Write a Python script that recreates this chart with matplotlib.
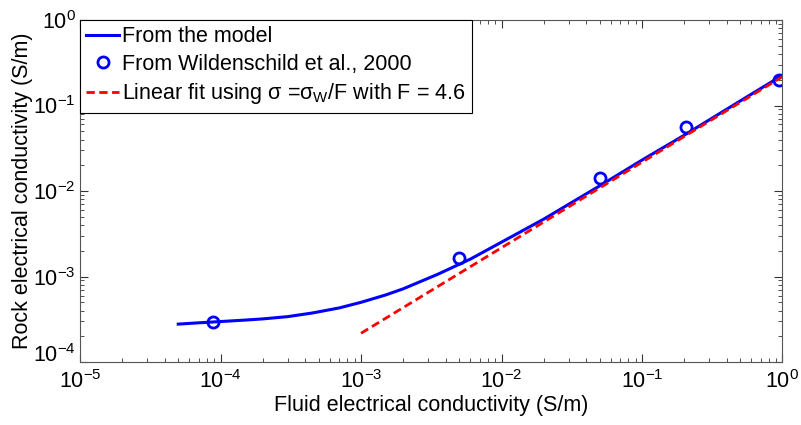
import numpy as np
import matplotlib.pyplot as plt

plt.rcParams["font.family"] = ["Liberation Sans", "DejaVu Sans"]
plt.rcParams["mathtext.fontset"] = "custom"
plt.rcParams["mathtext.rm"] = "Liberation Sans"
plt.rcParams["mathtext.it"] = "Liberation Sans"

# model curve (fluid vs rock conductivity, S/m)
sigma_w_model = [5e-5, 7e-5, 1e-4, 1.5e-4, 2e-4, 3e-4, 4.5e-4, 7e-4, 1e-3, 1.5e-3, 2e-3,
                 3.5e-3, 6e-3, 1.1e-2, 2e-2, 5e-2, 1e-1, 2e-1, 5e-1, 1.0]
sigma_model = [2.78e-4, 2.88e-4, 2.98e-4, 3.1e-4, 3.2e-4, 3.4e-4, 3.75e-4, 4.3e-4, 5.0e-4,
               6.1e-4, 7.2e-4, 1.06e-3, 1.6e-3, 2.75e-3, 4.7e-3, 1.15e-2, 2.3e-2, 4.5e-2,
               1.13e-1, 2.26e-1]

# measurements (Wildenschild et al., 2000)
sigma_w_meas = [8.8e-5, 5.0e-3, 5.05e-2, 2.04e-1, 0.95]
sigma_meas = [2.96e-4, 1.66e-3, 1.43e-2, 5.65e-2, 1.99e-1]

# linear fit sigma = sigma_w / F
F = 4.6
sigma_w_fit = np.array([1e-3, 1.0])
sigma_fit = sigma_w_fit / F

fs = 15.5

fig = plt.figure(figsize=(8.01, 4.25), dpi=100)
ax = fig.add_axes([0.0999, 0.148, 0.877, 0.805])

ax.loglog(sigma_w_model, sigma_model, "-", color="#0000ff", lw=2.2, label="From the model")
ax.loglog(sigma_w_meas, sigma_meas, "o", color="#0000ff", mfc="none", mew=2, ms=8,
          label="From Wildenschild et al., 2000")
ax.loglog(sigma_w_fit, sigma_fit, "--", color="#ff0000", lw=2, dashes=(3, 1.6),
          label=r"Linear fit using $\sigma$ =$\sigma_W$/F with F = 4.6")

ax.set_xlim(1e-5, 1)
ax.set_ylim(1e-4, 1)
ax.set_xticks([1e-5, 1e-4, 1e-3, 1e-2, 1e-1, 1])
ax.set_yticks([1e-4, 1e-3, 1e-2, 1e-1, 1])
ax.tick_params(which="both", direction="in", top=True, right=True, labelsize=fs, colors="#333333",
               labelcolor="black")
ax.tick_params(which="major", length=6)
ax.tick_params(which="minor", length=3)
ax.tick_params(axis="x", pad=6)
ax.tick_params(axis="y", pad=3)

for s in ax.spines.values():
    s.set_color("#555555")

ax.set_xlabel("Fluid electrical conductivity (S/m)", fontsize=fs, labelpad=1)
ax.set_ylabel("Rock electrical conductivity (S/m)", fontsize=fs, labelpad=0)

leg = ax.legend(loc="upper left", fontsize=fs, frameon=True, fancybox=False, framealpha=1,
                edgecolor="black", handlelength=1.5, handletextpad=0.15, borderpad=0.3,
                labelspacing=0.3, borderaxespad=0)
leg.get_frame().set_linewidth(0.8)

# lift the lowest y label clear of the corner
fig.canvas.draw()
ax.get_yticklabels()[0].set_verticalalignment("baseline")

fig.savefig("out.png", dpi=100)
